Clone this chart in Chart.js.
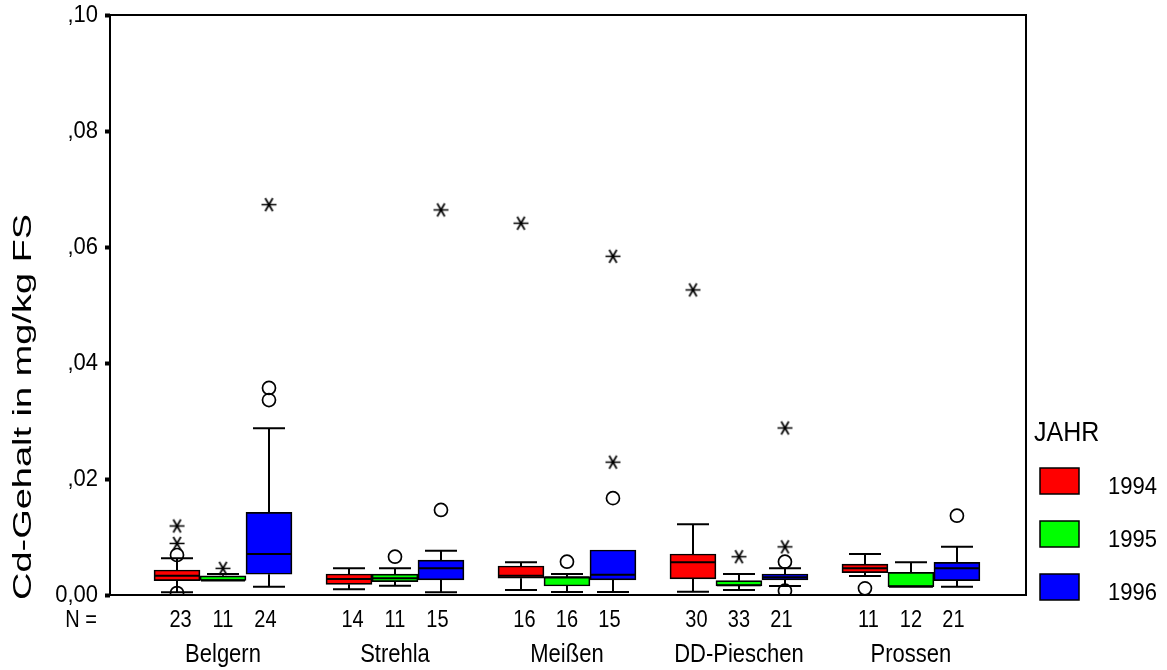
<!DOCTYPE html>
<html>
<head>
<meta charset="utf-8">
<title>Cd-Gehalt</title>
<script src="https://cdn.jsdelivr.net/npm/chart.js@4/dist/chart.umd.min.js"></script>
<style>
  html, body { margin: 0; padding: 0; background: #fff; }
  canvas { display: block; }
</style>
</head>
<body>
<canvas id="chart" width="1167" height="670"></canvas>
<script>
// Sampling sites (groups along the x axis) and years (one box per year)
const sites = ['Belgern', 'Strehla', 'Meißen', 'DD-Pieschen', 'Prossen'];
const years = ['1994', '1995', '1996'];
const yearColors = ['#ff0000', '#00ff00', '#0000ff'];

// Value axis ticks (mg/kg FS)
const yTickValues = [0, 0.02, 0.04, 0.06, 0.08, 0.10];
const yTickLabels = ['0,00', ',02', ',04', ',06', ',08', ',10'];

// Number of samples per site
const n1994 = [23, 14, 16, 30, 11];
const n1995 = [11, 11, 16, 33, 12];
const n1996 = [24, 15, 15, 21, 21];

// Box statistics per site: lower whisker, Q1, median, Q3, upper whisker
const low1994 = [0.00047, 0.00098, 0.00086, 0.00057, 0.00328];
const q1_1994 = [0.00247, 0.00184, 0.00290, 0.00276, 0.00385];
const med1994 = [0.00333, 0.00276, 0.00330, 0.00563, 0.00460];
const q3_1994 = [0.00431, 0.00362, 0.00500, 0.00707, 0.00534];
const high1994 = [0.00633, 0.00460, 0.00563, 0.01218, 0.00707];

const low1995 = [0.00250, 0.00160, 0.00050, 0.00086, 0.00143];
const q1_1995 = [0.00250, 0.00230, 0.00155, 0.00155, 0.00143];
const med1995 = [0.00250, 0.00290, 0.00300, 0.00170, 0.00143];
const q3_1995 = [0.00330, 0.00360, 0.00316, 0.00247, 0.00391];
const high1995 = [0.00360, 0.00460, 0.00362, 0.00362, 0.00563];

const low1996 = [0.00143, 0.00047, 0.00052, 0.00155, 0.00143];
const q1_1996 = [0.00357, 0.00259, 0.00259, 0.00259, 0.00247];
const med1996 = [0.00707, 0.00460, 0.00350, 0.00305, 0.00460];
const q3_1996 = [0.01426, 0.00603, 0.00776, 0.00362, 0.00563];
const high1996 = [0.02874, 0.00764, 0.00776, 0.00460, 0.00830];

// Outliers (circles) and extreme values (asterisks) per site
const out1994 = [[0.0069, 0.00034], [], [], [], [0.00115]];
const ext1994 = [[0.0089, 0.0119], [], [0.0641], [0.0526], []];
const out1995 = [[], [0.0066], [0.00574], [], []];
const ext1995 = [[0.0046], [], [], [0.0066], []];
const out1996 = [[0.0357, 0.0336], [0.01466], [0.0167], [0.00574, 0.00074], [0.01367]];
const ext1996 = [[0.0673], [0.0664], [0.0229, 0.0584], [0.0083, 0.0288], []];

const series = [
  { year: years[0], color: yearColors[0], n: n1994, low: low1994, q1: q1_1994, med: med1994, q3: q3_1994, high: high1994, out: out1994, ext: ext1994 },
  { year: years[1], color: yearColors[1], n: n1995, low: low1995, q1: q1_1995, med: med1995, q3: q3_1995, high: high1995, out: out1995, ext: ext1995 },
  { year: years[2], color: yearColors[2], n: n1996, low: low1996, q1: q1_1996, med: med1996, q3: q3_1996, high: high1996, out: out1996, ext: ext1996 }
];

// Layout constants
const BOX_STEP = 0.2674;   // distance between neighbouring boxes inside a site (site units)
const N_STEP = 0.247;      // distance between neighbouring sample-count labels (site units)
const BOX_WIDTH = 46;      // px
const CAP_WIDTH = 32;      // px, whisker end caps
const FONT = '"Liberation Sans", Arial, Helvetica, sans-serif';

// Asterisk marker for extreme values
function makeAsterisk() {
  const c = document.createElement('canvas');
  c.width = 19; c.height = 19;
  const g = c.getContext('2d');
  g.strokeStyle = '#000';
  g.lineWidth = 1.7;
  const cx = 9.5, cy = 9.5, r = 7.5;
  g.beginPath();
  g.moveTo(cx - r, cy); g.lineTo(cx + r, cy);
  for (const a of [Math.PI / 3, 2 * Math.PI / 3]) {
    g.moveTo(cx - r * Math.cos(a), cy - r * Math.sin(a));
    g.lineTo(cx + r * Math.cos(a), cy + r * Math.sin(a));
  }
  g.stroke();
  return c;
}
const asterisk = makeAsterisk();

const datasets = [];
series.forEach((s, k) => {
  const off = (k - 1) * BOX_STEP;
  datasets.push({
    type: 'scatter',
    label: s.year + ' Ausreißer',
    data: s.out.flatMap((vals, i) => vals.map(v => ({ x: i + off, y: v }))),
    pointStyle: 'circle',
    pointRadius: 6.5,
    borderColor: '#000',
    backgroundColor: 'rgba(0,0,0,0)',
    borderWidth: 1.7,
    order: 0
  });
  datasets.push({
    type: 'scatter',
    label: s.year + ' Extremwerte',
    data: s.ext.flatMap((vals, i) => vals.map(v => ({ x: i + off, y: v }))),
    pointStyle: asterisk,
    order: 0
  });
});
series.forEach((s, k) => {
  const off = (k - 1) * BOX_STEP;
  datasets.push({
    type: 'bar',
    label: s.year,
    data: sites.map((_, i) => ({ x: i + off, y: [s.q1[i], s.q3[i]] })),
    backgroundColor: s.color,
    borderColor: '#000',
    borderWidth: 1.7,
    borderSkipped: false,
    barThickness: BOX_WIDTH,
    grouped: false,
    order: 5,
    stats: s
  });
});

// Draw text with an optional vertical stretch (and rotation)
function stretchedText(ctx, str, x, y, size, opts) {
  const o = Object.assign({ align: 'center', baseline: 'middle', sy: 1, rotate: 0, weight: 'normal' }, opts || {});
  ctx.save();
  ctx.translate(x, y);
  ctx.scale(1, o.sy);
  if (o.rotate) ctx.rotate(o.rotate);
  ctx.font = o.weight + ' ' + size + 'px ' + FONT;
  ctx.fillStyle = '#000';
  ctx.textAlign = o.align;
  ctx.textBaseline = o.baseline;
  ctx.fillText(str, 0, 0);
  ctx.restore();
}

const boxplotPlugin = {
  id: 'boxplot',
  afterDatasetsDraw(chart) {
    const ctx = chart.ctx;
    const yS = chart.scales.y;
    ctx.save();
    ctx.strokeStyle = '#000';
    ctx.lineWidth = 2;
    chart.data.datasets.forEach((ds, di) => {
      if (ds.type !== 'bar') return;
      const meta = chart.getDatasetMeta(di);
      const s = ds.stats;
      meta.data.forEach((bar, i) => {
        const x = Math.round(bar.x);
        const yq1 = yS.getPixelForValue(s.q1[i]);
        const yq3 = yS.getPixelForValue(s.q3[i]);
        const ylo = yS.getPixelForValue(s.low[i]);
        const yhi = yS.getPixelForValue(s.high[i]);
        const ymed = yS.getPixelForValue(s.med[i]);
        ctx.beginPath();
        // whiskers
        if (yhi < yq3 - 0.5) {
          ctx.moveTo(x, yq3); ctx.lineTo(x, yhi);
          ctx.moveTo(x - CAP_WIDTH / 2, yhi); ctx.lineTo(x + CAP_WIDTH / 2, yhi);
        }
        if (ylo > yq1 + 0.5) {
          ctx.moveTo(x, yq1); ctx.lineTo(x, ylo);
          ctx.moveTo(x - CAP_WIDTH / 2, ylo); ctx.lineTo(x + CAP_WIDTH / 2, ylo);
        }
        // median
        ctx.moveTo(bar.x - BOX_WIDTH / 2 + 1, ymed); ctx.lineTo(bar.x + BOX_WIDTH / 2 - 1, ymed);
        ctx.stroke();
      });
    });
    ctx.restore();
  },
  afterDraw(chart) {
    const ctx = chart.ctx;
    const a = chart.chartArea;
    const xS = chart.scales.x;
    const yS = chart.scales.y;

    // frame around the plot
    ctx.save();
    ctx.strokeStyle = '#000';
    ctx.lineWidth = 2;
    ctx.strokeRect(a.left, a.top, a.right - a.left, a.bottom - a.top);
    ctx.restore();

    // value axis labels
    yTickValues.forEach((v, i) => {
      stretchedText(ctx, yTickLabels[i], 98, yS.getPixelForValue(v), 22, { align: 'right', sy: 1.1 });
    });

    // axis title
    stretchedText(ctx, 'Cd-Gehalt in mg/kg FS', 24, 600, 26, { align: 'left', rotate: -Math.PI / 2, sy: 1.46 });

    // sample counts and site names
    stretchedText(ctx, 'N =', 81, 621, 20, { sy: 1.15 });
    series.forEach((s, k) => {
      const off = (k - 1) * N_STEP;
      s.n.forEach((n, i) => {
        stretchedText(ctx, String(n), xS.getPixelForValue(i + off), 621, 20, { sy: 1.15 });
      });
    });
    sites.forEach((name, i) => {
      stretchedText(ctx, name, xS.getPixelForValue(i), 655, 22, { sy: 1.2 });
    });

    // legend
    stretchedText(ctx, 'JAHR', 1034, 433, 25, { align: 'left', sy: 1.1 });
    series.forEach((s, k) => {
      const top = 468 + k * 53;
      ctx.save();
      ctx.fillStyle = s.color;
      ctx.fillRect(1040, top, 39, 26);
      ctx.strokeStyle = '#000';
      ctx.lineWidth = 1.5;
      ctx.strokeRect(1040, top, 39, 26);
      ctx.restore();
      stretchedText(ctx, s.year, 1108, top + 19, 22, { align: 'left', sy: 1.1 });
    });
  }
};

new Chart(document.getElementById('chart'), {
  data: { datasets },
  options: {
    responsive: false,
    animation: false,
    events: [],
    layout: { padding: { left: 105, top: 15, right: 141, bottom: 75 } },
    plugins: { legend: { display: false }, tooltip: { enabled: false } },
    scales: {
      x: {
        type: 'linear',
        min: -0.657,
        max: 4.669,
        offset: false,
        display: false
      },
      y: {
        type: 'linear',
        min: 0,
        max: 0.10,
        afterBuildTicks: (scale) => { scale.ticks = yTickValues.map(v => ({ value: v })); },
        ticks: { display: false },
        grid: { display: true, drawOnChartArea: false, drawTicks: true, tickLength: 5, tickWidth: 4, tickColor: '#000' },
        border: { display: false }
      }
    }
  },
  plugins: [boxplotPlugin]
});
</script>
</body>
</html>
